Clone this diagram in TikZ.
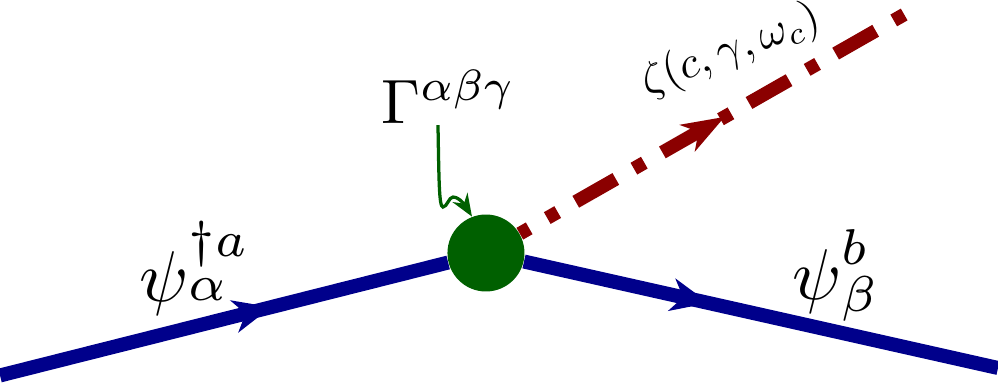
\documentclass[tikz,border=0pt]{standalone}
\usepackage{amsmath,amssymb}
\usetikzlibrary{arrows.meta,decorations.markings,backgrounds}
\definecolor{fermionblue}{RGB}{0,0,139}
\definecolor{vertexgreen}{RGB}{0,96,0}
\definecolor{bosonred}{RGB}{139,0,0}

\begin{document}
\begin{tikzpicture}[>=Stealth,
  fermion/.style={draw=fermionblue,line width=5.6pt},
  boson/.style={draw=bosonred,line width=5.4pt,dash pattern=on 4.8pt off 8.3pt on 18.4pt off 8.3pt,dash phase=27.2pt},
  midarrow/.style 2 args={postaction={decorate},decoration={markings,mark=at position #1 with {\arrow{#2}}}},
  lbl/.style={inner sep=0pt}]
\useasboundingbox (0,0) rectangle (14,5.457);
\coordinate (lend) at (0,0.19);
\coordinate (rend) at (14,0.295);
\coordinate (dend) at (12.695,5.26);
\node[circle,fill=vertexgreen,minimum size=1.08cm,inner sep=0pt] (vtx) at (6.817,1.908) {};
% legs
\begin{scope}[on background layer]
\draw[fermion,midarrow={0.605}{Stealth[length=15pt,width=13pt,inset=4.5pt]}] (lend) -- (vtx);
\draw[fermion,midarrow={0.39}{Stealth[length=15pt,width=13pt,inset=4.5pt]}] (vtx) -- (rend);
\draw[boson,midarrow={0.532}{Stealth[length=17pt,width=12pt,inset=5pt]}] (vtx) -- (dend);
\end{scope}
% labels
\node[lbl,scale=2.87,anchor=base west] (psiin) at (1.936,1.234) {$\psi\raisebox{2.6pt}{$^{\dagger a}_{\alpha}$}$};
\node[lbl,scale=2.87,anchor=base west] (psiout) at (11.095,1.253) {$\psi\raisebox{1.2pt}{$^{b}_{\beta}$}$};
\node[lbl,scale=1.78,rotate=21] (zeta) at (10.254,4.741) {$\zeta(c,\gamma,\omega_c)$};
\node[lbl,scale=2.5,anchor=base west] (gam) at (5.33,3.73) {$\Gamma^{\alpha\beta\gamma}$};
% vertex pointer
\coordinate (gtail) at (6.144,3.703);
\draw[-{Stealth[length=9pt,width=7pt]},vertexgreen,line width=1.3pt] (gtail) .. controls (6.158,2.932) and (6.158,2.553) .. (6.214,2.553) .. controls (6.270,2.553) and (6.298,2.693) .. (6.354,2.693) .. controls (6.452,2.693) and (6.537,2.553) .. (vtx.111);
\end{tikzpicture}
\end{document}
